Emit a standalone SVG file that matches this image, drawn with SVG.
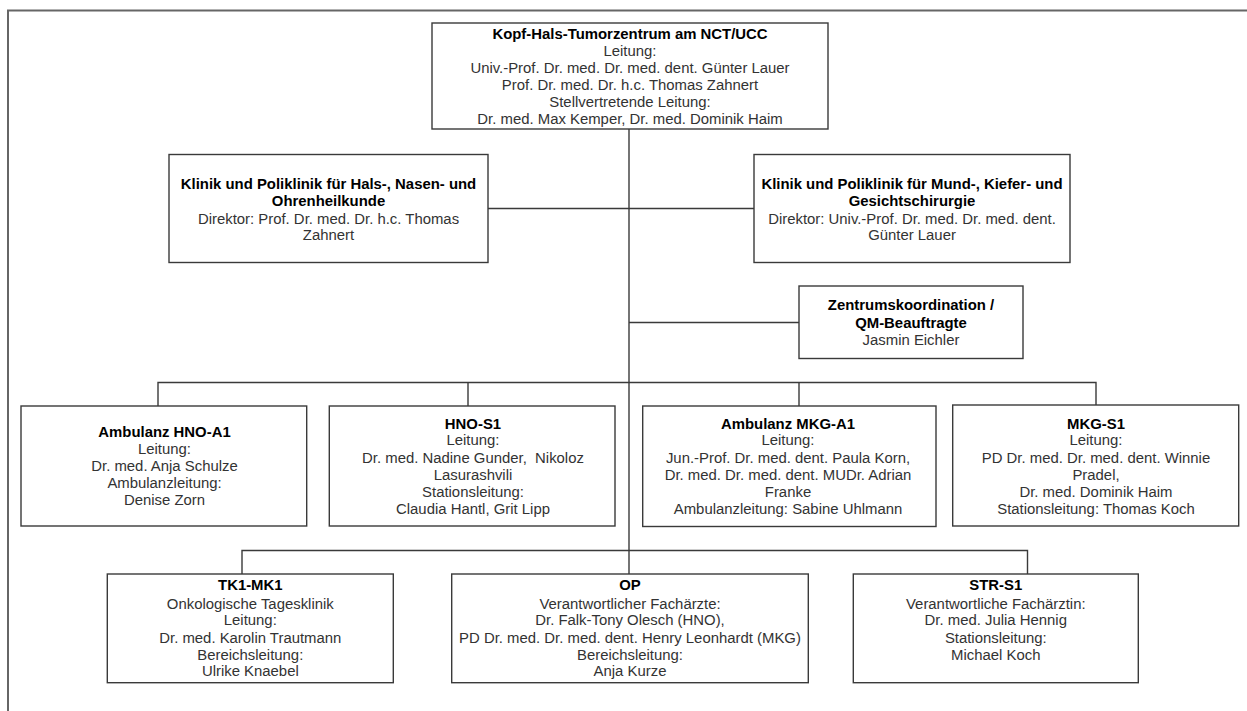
<svg xmlns="http://www.w3.org/2000/svg" width="1247" height="711" viewBox="0 0 1247 711">
<style>
.box{fill:#fff;stroke:#3a3a3a;stroke-width:1.4}
.t{font-family:"Liberation Sans",Arial,sans-serif;font-size:14.9px;fill:#333;text-anchor:middle}
.b{font-weight:bold;fill:#000}
.c{fill:none;stroke:#3a3a3a;stroke-width:1.4}
.frame{fill:none;stroke:#666;stroke-width:2}
</style>
<rect width="1247" height="711" fill="#fff"/>
<path class="frame" d="M8,711 V10.5 H1247"/>
<g id="connectors">
<path class="c" d="M629,129 V574"/>
<path class="c" d="M488,208.5 H754"/>
<path class="c" d="M629,322.5 H799"/>
<path class="c" d="M158,406 V382.5 H1096 V405"/>
<path class="c" d="M468,382.5 V406 M799,382.5 V406"/>
<path class="c" d="M242,574 V550.5 H1027.5 V574"/>
</g>
<g id="top">
<rect class="box" x="432" y="23" width="396" height="106"/>
<text class="t b" x="630" y="38.6">Kopf-Hals-Tumorzentrum am NCT/UCC</text>
<text class="t" x="630" y="55.7">Leitung:</text>
<text class="t" x="630" y="72.8">Univ.-Prof. Dr. med. Dr. med. dent. Günter Lauer</text>
<text class="t" x="630" y="89.9">Prof. Dr. med. Dr. h.c. Thomas Zahnert</text>
<text class="t" x="630" y="107">Stellvertretende Leitung:</text>
<text class="t" x="630" y="124.1">Dr. med. Max Kemper, Dr. med. Dominik Haim</text>
</g>
<g id="hno-klinik">
<rect class="box" x="169" y="154.5" width="319" height="108"/>
<text class="t b" x="328.5" y="188.6">Klinik und Poliklinik für Hals-, Nasen- und</text>
<text class="t b" x="328.5" y="206">Ohrenheilkunde</text>
<text class="t" x="328.5" y="223.6">Direktor: Prof. Dr. med. Dr. h.c. Thomas</text>
<text class="t" x="328.5" y="240.3">Zahnert</text>
</g>
<g id="mkg-klinik">
<rect class="box" x="754" y="154.5" width="316" height="108"/>
<text class="t b" x="912" y="188.6">Klinik und Poliklinik für Mund-, Kiefer- und</text>
<text class="t b" x="912" y="206">Gesichtschirurgie</text>
<text class="t" x="912" y="223.6">Direktor: Univ.-Prof. Dr. med. Dr. med. dent.</text>
<text class="t" x="912" y="240.3">Günter Lauer</text>
</g>
<g id="koordination">
<rect class="box" x="799" y="286" width="224" height="72.5"/>
<text class="t b" x="911" y="309.6">Zentrumskoordination /</text>
<text class="t b" x="911" y="327.6">QM-Beauftragte</text>
<text class="t" x="911" y="345.3">Jasmin Eichler</text>
</g>
<g id="hno-a1">
<rect class="box" x="21" y="406" width="285.7" height="120"/>
<text class="t b" x="164.5" y="437">Ambulanz HNO-A1</text>
<text class="t" x="164.5" y="453.6">Leitung:</text>
<text class="t" x="164.5" y="471.3">Dr. med. Anja Schulze</text>
<text class="t" x="164.5" y="488">Ambulanzleitung:</text>
<text class="t" x="164.5" y="504.6">Denise Zorn</text>
</g>
<g id="hno-s1">
<rect class="box" x="329.3" y="406" width="285.7" height="120"/>
<text class="t b" x="473" y="428.6">HNO-S1</text>
<text class="t" x="473" y="445.3">Leitung:</text>
<text class="t" x="473" y="463" xml:space="preserve">Dr. med. Nadine Gunder,  Nikoloz</text>
<text class="t" x="473" y="480.3">Lasurashvili</text>
<text class="t" x="473" y="497">Stationsleitung:</text>
<text class="t" x="473" y="513.6">Claudia Hantl, Grit Lipp</text>
</g>
<g id="mkg-a1">
<rect class="box" x="642.7" y="406" width="293.3" height="120.5"/>
<text class="t b" x="788" y="428.6">Ambulanz MKG-A1</text>
<text class="t" x="788" y="445.3">Leitung:</text>
<text class="t" x="788" y="463">Jun.-Prof. Dr. med. dent. Paula Korn,</text>
<text class="t" x="788" y="480.3">Dr. med. Dr. med. dent. MUDr. Adrian</text>
<text class="t" x="788" y="497">Franke</text>
<text class="t" x="788" y="513.6">Ambulanzleitung: Sabine Uhlmann</text>
</g>
<g id="mkg-s1">
<rect class="box" x="952.7" y="405" width="286" height="121"/>
<text class="t b" x="1096" y="428.6">MKG-S1</text>
<text class="t" x="1096" y="445.3">Leitung:</text>
<text class="t" x="1096" y="463">PD Dr. med. Dr. med. dent. Winnie</text>
<text class="t" x="1096" y="479.8">Pradel,</text>
<text class="t" x="1096" y="497">Dr. med. Dominik Haim</text>
<text class="t" x="1096" y="513.6">Stationsleitung: Thomas Koch</text>
</g>
<g id="tk1-mk1">
<rect class="box" x="107.3" y="574" width="286" height="108.7"/>
<text class="t b" x="250.3" y="590.3">TK1-MK1</text>
<text class="t" x="250.3" y="608.6">Onkologische Tagesklinik</text>
<text class="t" x="250.3" y="625.3">Leitung:</text>
<text class="t" x="250.3" y="642.6">Dr. med. Karolin Trautmann</text>
<text class="t" x="250.3" y="659.6">Bereichsleitung:</text>
<text class="t" x="250.3" y="676.3">Ulrike Knaebel</text>
</g>
<g id="op">
<rect class="box" x="451.7" y="574" width="356.6" height="108.7"/>
<text class="t b" x="630" y="590.3">OP</text>
<text class="t" x="630" y="608.6">Verantwortlicher Fachärzte:</text>
<text class="t" x="630" y="625.3">Dr. Falk-Tony Olesch (HNO),</text>
<text class="t" x="630" y="642.6">PD Dr. med. Dr. med. dent. Henry Leonhardt (MKG)</text>
<text class="t" x="630" y="659.6">Bereichsleitung:</text>
<text class="t" x="630" y="676.3">Anja Kurze</text>
</g>
<g id="str-s1">
<rect class="box" x="853.3" y="574" width="285" height="108.7"/>
<text class="t b" x="995.8" y="590.3">STR-S1</text>
<text class="t" x="995.8" y="608.6">Verantwortliche Fachärztin:</text>
<text class="t" x="995.8" y="625.3">Dr. med. Julia Hennig</text>
<text class="t" x="995.8" y="642.6">Stationsleitung:</text>
<text class="t" x="995.8" y="659.6">Michael Koch</text>
</g>
</svg>
